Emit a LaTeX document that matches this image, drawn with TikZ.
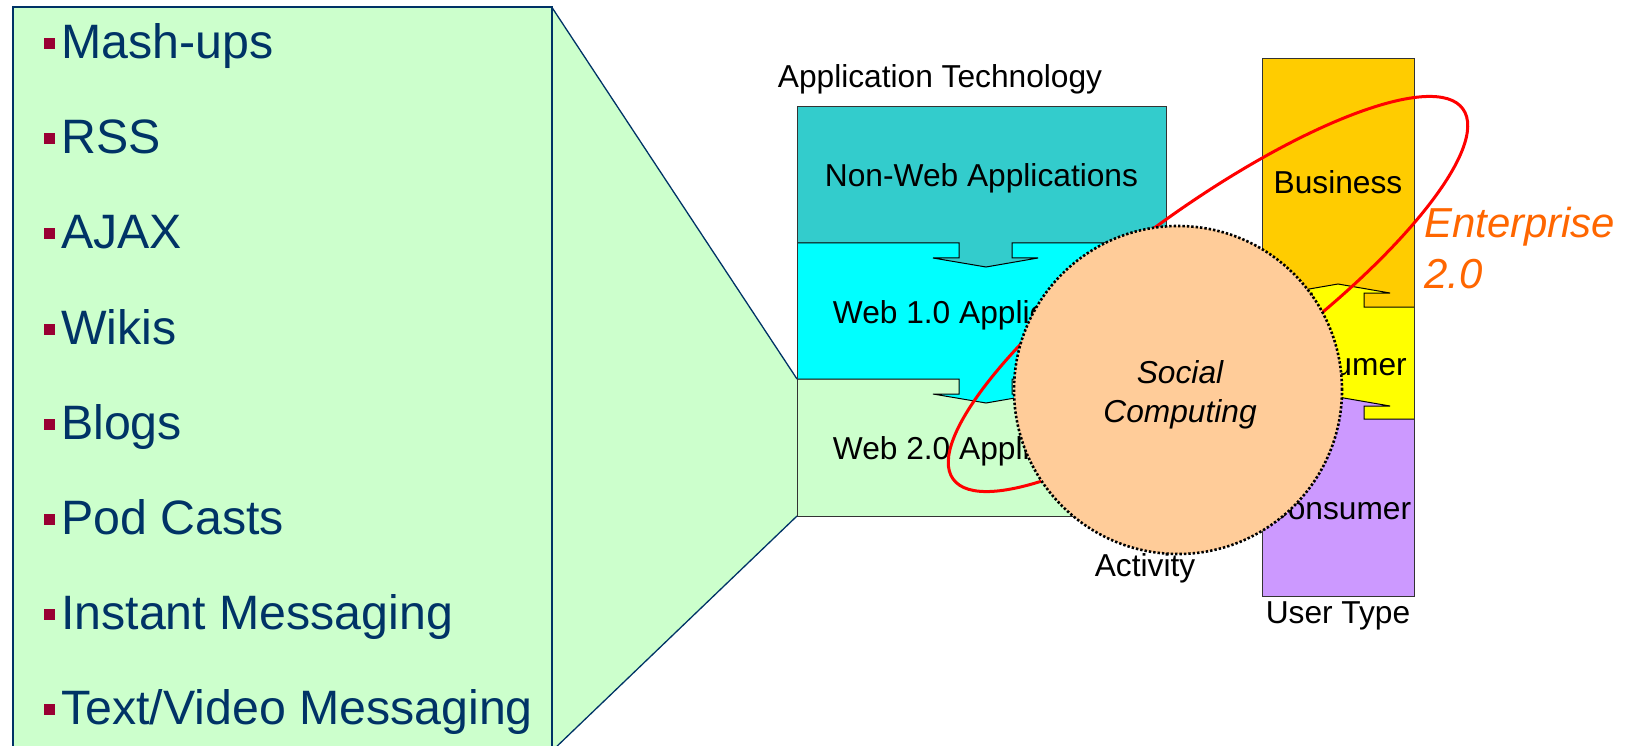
\documentclass[tikz,border=0pt]{standalone}
\usepackage{fontspec}
\setmainfont{Liberation Sans}
\usetikzlibrary{calc}
\definecolor{navy}{HTML}{003366}
\definecolor{bulletred}{HTML}{990033}
\definecolor{teal1}{HTML}{33CCCC}
\definecolor{cyan1}{HTML}{00FFFF}
\definecolor{mint}{HTML}{CCFFCC}
\definecolor{gold}{HTML}{FFCC00}
\definecolor{yel}{HTML}{FFFF00}
\definecolor{lilac}{HTML}{CC99FF}
\definecolor{peach}{HTML}{FFCC99}
\definecolor{orng}{HTML}{FF6600}
\begin{document}
\begin{tikzpicture}[x=1pt,y=-1pt,
  listitem/.style={anchor=base west, text=navy, font=\fontsize{48.3}{58}\selectfont, inner sep=0pt},
  bulletsq/.style={fill=bulletred, minimum size=11pt, inner sep=0pt},
  lbl/.style={anchor=base, font=\fontsize{31.7}{38}\selectfont, inner sep=0pt},
  ilbl/.style={anchor=base, font=\fontsize{31.7}{38}\selectfont\itshape, inner sep=0pt},
  entlbl/.style={anchor=base west, text=orng, font=\fontsize{41.9}{50}\selectfont\itshape, inner sep=0pt},
  outline/.style={draw=black, line width=1pt},
  funnel/.style={draw=navy, line width=1.3pt},
]
\useasboundingbox (0,0) rectangle (1628,746);
\clip (0,0) rectangle (1628,746);

% ---- list box ----
\coordinate (lbTR) at (552,7.5);
\coordinate (lbBR) at (552,751);
\coordinate (stL2) at (797,379);
\coordinate (stBL) at (797,516);
\fill[mint] (lbTR) -- (stL2) -- (stBL) -- (lbBR) -- cycle;
\draw[navy, line width=2pt, fill=mint] (13,7.5) rectangle (552,780);

\foreach \i/\t in {0/{Mash-ups},1/{RSS},2/{AJAX},3/{Wikis},4/{Blogs},5/{Pod Casts},6/{Instant Messaging},7/{Text/Video Messaging}}{
  \node[bulletsq] (bul\i) at (49.5,{58.5+95.2*\i-15}) {};
  \node[listitem] (item\i) at (61,{58.5+95.2*\i}) {\t};
}

% ---- application technology stack ----
\fill[teal1] (797,107) rectangle (1166,243);
\fill[cyan1] (797,243) rectangle (1166,379);
\fill[mint] (797,379) rectangle (1166,516);
\fill[teal1] (959,242) -- (959,258) -- (933,258) -- (986,267) -- (1038,258) -- (1012,258) -- (1012,242) -- cycle;
\fill[cyan1] (959,378) -- (959,394) -- (933,394) -- (986,403) -- (1038,394) -- (1012,394) -- (1012,378) -- cycle;
\draw[outline] (797,243) -- (959,243) -- (959,258) -- (933,258) -- (986,267) -- (1038,258) -- (1012,258) -- (1012,243) -- (1166,243);
\draw[outline] (797,379) -- (959,379) -- (959,394) -- (933,394) -- (986,403) -- (1038,394) -- (1012,394) -- (1012,379) -- (1166,379);
\draw[outline, draw=black!80] (797,107) rectangle (1166,516);

\node[lbl] (apptech) at (940,87.3) {Application Technology};
\node[lbl] (nonweb) at (981.5,186.7) {Non-Web Applications};
\node[lbl] (web1) at (981.5,323) {Web 1.0 Applications};
\node[lbl] (web2) at (981.5,459) {Web 2.0 Applications};

% funnel lines
\draw[funnel] (lbTR) -- (stL2);
\draw[funnel] (stBL) -- (lbBR);

% ---- user type column ----
\fill[gold] (1262,59) rectangle (1414,307);
\fill[yel] (1262,307) rectangle (1414,419);
\fill[lilac] (1262,419) rectangle (1414,596);
\fill[yel] (1312,308) -- (1312,293) -- (1286,293) -- (1338,284) -- (1390,293) -- (1364,293) -- (1364,308) -- cycle;
\fill[lilac] (1312,420) -- (1312,406) -- (1286,406) -- (1338,397) -- (1390,406) -- (1364,406) -- (1364,420) -- cycle;
\draw[outline] (1262,307) -- (1312,307) -- (1312,293) -- (1286,293) -- (1338,284) -- (1390,293) -- (1364,293) -- (1364,307) -- (1414,307);
\draw[outline] (1262,419) -- (1312,419) -- (1312,406) -- (1286,406) -- (1338,397) -- (1390,406) -- (1364,406) -- (1364,419) -- (1414,419);
\draw[outline, draw=black!80] (1262,59) rectangle (1414,596);

\node[lbl] (bus) at (1338,194) {Business};
\node[lbl] (pro) at (1338,375) {Prosumer};
\node[lbl] (con) at (1338,519) {Consumer};
\node[lbl] (ut) at (1338,623) {User Type};

% ---- Enterprise 2.0 ellipse ----
\draw[red, line width=3pt, rotate around={36:(1208,294)}] (1208,294) ellipse [x radius=315pt, y radius=85pt];

% ---- social computing circle ----
\node[circle, fill=peach, draw=black, line width=2.6pt, dash pattern=on 2.4pt off 2pt, minimum size=328pt, inner sep=0pt] (sc) at (1178,390) {};
\node[ilbl] (soc) at (1180,383) {Social};
\node[ilbl] (comp) at (1180,422) {Computing};
\node[lbl] (act) at (1145,576) {Activity};

\node[entlbl] (ent) at (1424,238) {Enterprise};
\node[entlbl] (ent2) at (1424,288) {2.0};
\end{tikzpicture}
\end{document}
